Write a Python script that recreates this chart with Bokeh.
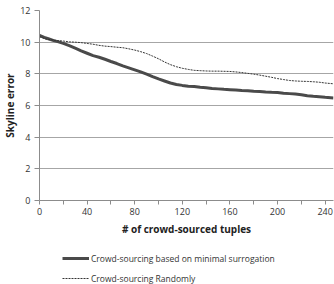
from bokeh.plotting import figure
from bokeh.models import FixedTicker, Legend, LegendItem, Range1d
from bokeh.layouts import column
from bokeh.embed import file_html
from bokeh.resources import INLINE

# Data
x_min_sur = [0, 4, 8, 12, 16, 20, 25, 30, 35, 40, 45, 50, 55, 60, 65, 70, 75, 80, 85, 90, 95,
             100, 105, 110, 115, 120, 125, 130, 135, 140, 145, 150, 155, 160, 165, 170, 175,
             180, 185, 190, 195, 200, 205, 210, 215, 220, 225, 230, 235, 240, 247]
y_min_sur = [10.42, 10.3, 10.2, 10.1, 10.02, 9.92, 9.78, 9.62, 9.45, 9.3, 9.15, 9.05, 8.92, 8.78,
             8.65, 8.5, 8.38, 8.25, 8.12, 7.98, 7.82, 7.68, 7.55, 7.42, 7.33, 7.27, 7.22, 7.2,
             7.15, 7.12, 7.08, 7.05, 7.02, 7.0, 6.98, 6.95, 6.93, 6.9, 6.88, 6.85, 6.83, 6.82,
             6.78, 6.75, 6.72, 6.68, 6.62, 6.58, 6.55, 6.52, 6.48]
x_random = [0, 5, 10, 15, 20, 25, 30, 35, 40, 45, 50, 55, 60, 65, 70, 75, 80, 85, 90, 95, 100,
            105, 110, 115, 120, 125, 130, 135, 140, 145, 150, 155, 160, 165, 170, 175, 180,
            185, 190, 195, 200, 205, 210, 215, 220, 225, 230, 235, 240, 247]
y_random = [10.35, 10.2, 10.15, 10.1, 10.07, 10.02, 10.0, 9.97, 9.92, 9.87, 9.8, 9.75, 9.72,
            9.68, 9.65, 9.58, 9.5, 9.4, 9.28, 9.12, 8.95, 8.75, 8.58, 8.45, 8.35, 8.28, 8.22,
            8.2, 8.18, 8.17, 8.17, 8.16, 8.15, 8.12, 8.08, 8.03, 7.98, 7.92, 7.85, 7.78, 7.7,
            7.64, 7.58, 7.55, 7.53, 7.52, 7.5, 7.47, 7.42, 7.37]
x_ticks = [0, 40, 80, 120, 160, 200, 240]
x_minor = [20, 60, 100, 140, 180, 220]
y_ticks = [0, 2, 4, 6, 8, 10, 12]
labels = ["Crowd-sourcing based on minimal surrogation", "Crowd-sourcing Randomly"]

FONT = "Open Sans"
SOLID = dict(line_width=3, line_color="#4a4a4a")
DASHED = dict(line_width=1, line_color="#333333", line_dash="2 1")

p = figure(width=334, height=238, output_backend="svg", toolbar_location=None,
           x_range=Range1d(0, 247), y_range=Range1d(0, 12),
           min_border_left=37, min_border_right=1, min_border_top=10, min_border_bottom=38)
p.outline_line_color = None

p.line(x_min_sur, y_min_sur, **SOLID)
p.line(x_random, y_random, **DASHED)

p.xgrid.grid_line_color = None
p.ygrid.grid_line_color = "#a6a6a6"
p.ygrid.ticker = FixedTicker(ticks=y_ticks)

p.xaxis.ticker = FixedTicker(ticks=x_ticks, minor_ticks=x_minor)
p.yaxis.ticker = FixedTicker(ticks=y_ticks)
for ax in (p.xaxis, p.yaxis):
    ax.axis_line_color = "#8c8c8c"
    ax.major_tick_line_color = "#8c8c8c"
    ax.minor_tick_line_color = "#8c8c8c"
    ax.major_tick_in = 0
    ax.minor_tick_in = 0
    ax.major_label_text_font = FONT
    ax.major_label_text_font_size = "9px"
    ax.major_label_text_color = "#333333"
    ax.axis_label_text_font = FONT
    ax.axis_label_text_font_size = "10px"
    ax.axis_label_text_font_style = "bold"
    ax.axis_label_text_color = "#222222"
p.xaxis.major_tick_out = 4
p.xaxis.minor_tick_out = 4
p.yaxis.major_tick_out = 5
p.yaxis.minor_tick_line_color = None
p.xaxis.axis_label = "# of crowd-sourced tuples"
p.yaxis.axis_label = "Skyline error"
p.xaxis.major_label_standoff = 3
p.xaxis.axis_label_standoff = 4
p.yaxis.major_label_standoff = 4
p.yaxis.axis_label_standoff = 0

# Legend panel below the chart
lg = figure(width=334, height=46, output_backend="svg", toolbar_location=None,
            x_range=Range1d(0, 1), y_range=Range1d(0, 1),
            min_border_left=0, min_border_right=0, min_border_top=0, min_border_bottom=0)
lg.axis.visible = False
lg.grid.visible = False
lg.outline_line_color = None
l1 = lg.line([5, 6], [5, 6], **SOLID)
l2 = lg.line([5, 6], [5, 6], **DASHED)
legend = Legend(items=[LegendItem(label=labels[0], renderers=[l1]),
                       LegendItem(label=labels[1], renderers=[l2])],
                location=(23, 0), orientation="vertical",
                label_text_font=FONT, label_text_font_size="8.5px", label_text_color="#333333",
                glyph_width=27, glyph_height=12, label_height=12, label_standoff=2, spacing=8,
                padding=0, margin=0, border_line_color=None, background_fill_alpha=0)
lg.add_layout(legend, "center")

open("out.html", "w").write(file_html(column(p, lg), INLINE))
